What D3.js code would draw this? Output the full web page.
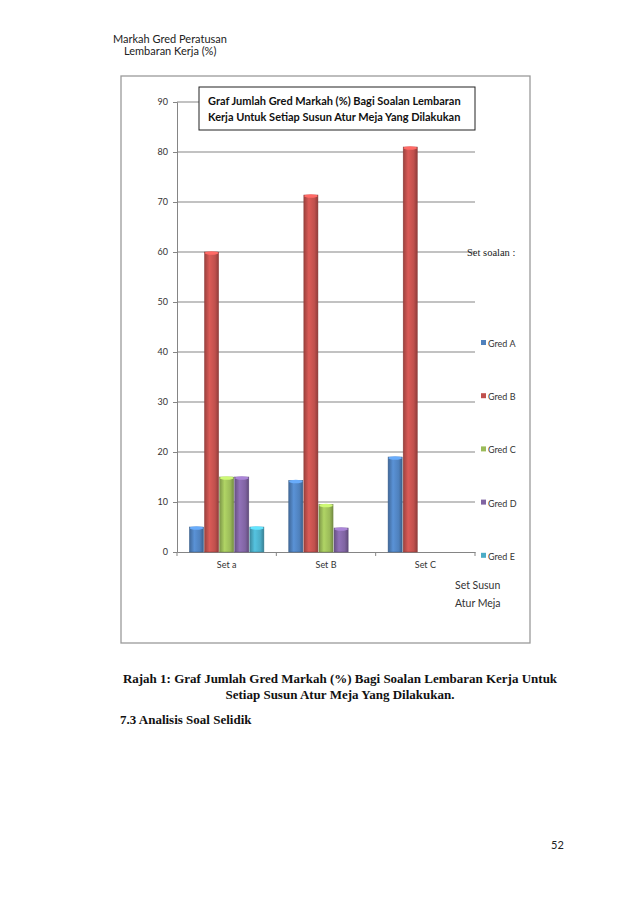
<!DOCTYPE html>
<html>
<head>
<meta charset="utf-8">
<script src="https://cdn.jsdelivr.net/npm/d3@7"></script>
<style>
  body { margin: 0; background: #fff; }
</style>
</head>
<body>
<div id="page"></div>
<script>
// Data
const categories = ["Set a", "Set B", "Set C"];
const series = ["Gred A", "Gred B", "Gred C", "Gred D", "Gred E"];
const gredA = [5, 14.3, 19];
const gredB = [60, 71.4, 81];
const gredC = [15, 9.5, 0];
const gredD = [15, 4.8, 0];
const gredE = [5, 0, 0];
const yTicks = [0, 10, 20, 30, 40, 50, 60, 70, 80, 90];

const values = [gredA, gredB, gredC, gredD, gredE];
const colors = ["#4F81BD", "#C0504D", "#9BBB59", "#8064A2", "#4BACC6"];

const W = 638, H = 903;
const SERIF = "'Liberation Serif', 'DejaVu Serif', serif";
const svg = d3.select("#page").append("svg")
    .attr("width", W).attr("height", H)
    .attr("font-family", "Lato, 'Open Sans', sans-serif");

// Gradients for the cylinder look
const defs = svg.append("defs");
colors.forEach((c, i) => {
    const g = defs.append("linearGradient")
        .attr("id", "grad" + i)
        .attr("x1", "0%").attr("x2", "100%").attr("y1", "0%").attr("y2", "0%");
    const base = d3.color(c);
    g.append("stop").attr("offset", "0%").attr("stop-color", base.darker(0.6));
    g.append("stop").attr("offset", "35%").attr("stop-color", base.brighter(0.35));
    g.append("stop").attr("offset", "75%").attr("stop-color", base);
    g.append("stop").attr("offset", "100%").attr("stop-color", base.darker(0.8));
});

// Page header
svg.append("text").attr("x", 113).attr("y", 43)
    .attr("font-size", 11).attr("fill", "#222").text("Markah Gred Peratusan");
svg.append("text").attr("x", 124).attr("y", 55)
    .attr("font-size", 11).attr("fill", "#222").text("Lembaran Kerja (%)");

// Chart frame
svg.append("rect")
    .attr("x", 121).attr("y", 76).attr("width", 409).attr("height", 567)
    .attr("fill", "#fff").attr("stroke", "#9a9a9a").attr("stroke-width", 1.3);

const plot = { left: 177, right: 475, top: 102, bottom: 552 };

const yScale = d3.scaleLinear().domain([0, 90]).range([plot.bottom, plot.top]);
const x0 = d3.scaleBand().domain(categories).range([plot.left, plot.right]).padding(0);
const x1 = d3.scaleBand().domain(series)
    .range([x0.bandwidth() * 0.12, x0.bandwidth() * 0.88]).padding(0);

// Gridlines
svg.append("g")
    .selectAll("line")
    .data(yTicks.filter(d => d > 0))
    .join("line")
    .attr("x1", plot.left).attr("x2", plot.right)
    .attr("y1", d => yScale(d)).attr("y2", d => yScale(d))
    .attr("stroke", "#858585").attr("stroke-width", 1);

// Y axis
const yAxis = d3.axisLeft(yScale).tickValues(yTicks).tickSize(4).tickPadding(5);
const yAxisG = svg.append("g")
    .attr("transform", `translate(${plot.left},0)`)
    .call(yAxis);
yAxisG.select(".domain").attr("stroke", "#858585");
yAxisG.selectAll(".tick line").attr("stroke", "#858585");
yAxisG.selectAll(".tick text").attr("font-size", 9).attr("fill", "#333")
    .attr("font-family", "Lato, sans-serif");

// X axis
const xAxis = d3.axisBottom(x0).tickSize(0).tickPadding(10);
const xAxisG = svg.append("g")
    .attr("transform", `translate(0,${plot.bottom})`)
    .call(xAxis);
xAxisG.select(".domain").attr("stroke", "#858585");
xAxisG.selectAll(".tick text").attr("font-size", 9).attr("fill", "#333")
    .attr("font-family", "Lato, sans-serif");
// Category separator ticks
svg.append("g").selectAll("line")
    .data(categories.map(c => x0(c)).concat([plot.right]))
    .join("line")
    .attr("x1", d => d).attr("x2", d => d)
    .attr("y1", plot.bottom).attr("y2", plot.bottom + 4)
    .attr("stroke", "#858585");

// Bars
const groups = svg.append("g").selectAll("g")
    .data(categories)
    .join("g")
    .attr("transform", d => `translate(${x0(d)},0)`);

groups.each(function(cat, ci) {
    const g = d3.select(this);
    series.forEach((s, si) => {
        const v = values[si][ci];
        if (!v) return;
        const bx = x1(s), bw = x1.bandwidth();
        const top = yScale(v);
        g.append("rect")
            .attr("x", bx + 0.5).attr("y", top)
            .attr("width", bw - 1).attr("height", plot.bottom - top)
            .attr("fill", `url(#grad${si})`)
            .attr("stroke", d3.color(colors[si]).darker(0.9))
            .attr("stroke-width", 0.5);
        g.append("ellipse")
            .attr("cx", bx + bw / 2).attr("cy", top + 1)
            .attr("rx", bw / 2 - 0.8).attr("ry", 1.8)
            .attr("fill", d3.color(colors[si]).brighter(0.8));
    });
});

// Title box
svg.append("rect")
    .attr("x", 199).attr("y", 87).attr("width", 276).attr("height", 43)
    .attr("fill", "#fff").attr("stroke", "#222").attr("stroke-width", 1);
svg.append("text").attr("x", 208).attr("y", 105)
    .attr("font-size", 11).attr("font-weight", "bold").attr("fill", "#111")
    .text("Graf Jumlah Gred Markah (%) Bagi Soalan Lembaran");
svg.append("text").attr("x", 208).attr("y", 121)
    .attr("font-size", 11).attr("font-weight", "bold").attr("fill", "#111")
    .text("Kerja Untuk Setiap Susun Atur Meja Yang Dilakukan");

// Legend
svg.append("text").attr("x", 467).attr("y", 256)
    .attr("font-size", 10.5).attr("font-family", SERIF)
    .attr("fill", "#222").text("Set soalan :");

const legend = svg.append("g").selectAll("g")
    .data(series)
    .join("g")
    .attr("transform", (d, i) => `translate(481,${344 + i * 53.2})`);
legend.append("rect")
    .attr("x", 0).attr("y", -4).attr("width", 5).attr("height", 5)
    .attr("fill", (d, i) => colors[i]);
legend.append("text")
    .attr("x", 7).attr("y", 3)
    .attr("font-size", 9).attr("fill", "#333").text(d => d);

svg.append("text").attr("x", 455).attr("y", 589)
    .attr("font-size", 10.5).attr("fill", "#333").text("Set Susun");
svg.append("text").attr("x", 455).attr("y", 607)
    .attr("font-size", 10.5).attr("fill", "#333").text("Atur Meja");

// Caption below the chart
svg.append("text").attr("x", 340).attr("y", 683)
    .attr("text-anchor", "middle").attr("font-size", 13).attr("font-weight", "bold")
    .attr("font-family", SERIF).attr("fill", "#111")
    .text("Rajah 1: Graf Jumlah Gred Markah (%) Bagi Soalan Lembaran Kerja Untuk");
svg.append("text").attr("x", 340).attr("y", 699)
    .attr("text-anchor", "middle").attr("font-size", 13).attr("font-weight", "bold")
    .attr("font-family", SERIF).attr("fill", "#111")
    .text("Setiap Susun Atur Meja Yang Dilakukan.");
svg.append("text").attr("x", 120).attr("y", 724)
    .attr("font-size", 13).attr("font-weight", "bold")
    .attr("font-family", SERIF).attr("fill", "#111")
    .text("7.3 Analisis Soal Selidik");

// Page number
svg.append("text").attr("x", 551).attr("y", 849)
    .attr("font-size", 11).attr("fill", "#222").text("52");
</script>
</body>
</html>
